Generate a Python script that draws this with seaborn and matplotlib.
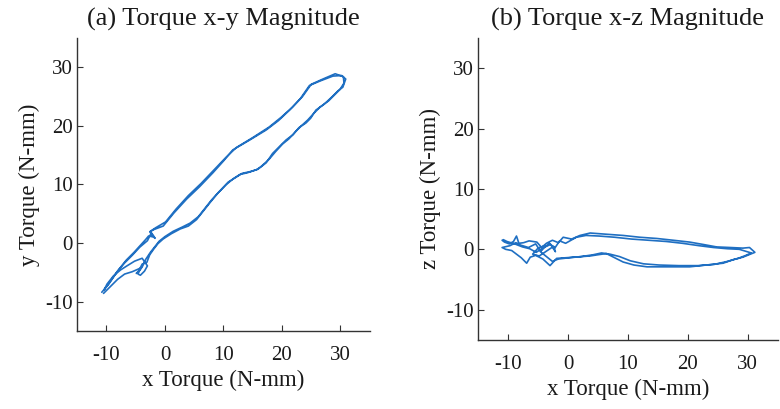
import matplotlib
matplotlib.use("Agg")
import matplotlib.pyplot as plt
import seaborn as sns

# --- data (N-mm) ---
# (a) x-y loop, traced roughly twice
xy_x = [-10.8, -9.6, -8.2, -6.9, -5.6, -4.3, -3.0, -2.4, -1.7, -2.6, -1.9, -0.3, 1.5, 3.7,
        5.9, 8.2, 10.0, 11.6, 14.5, 17.3, 19.4, 21.3, 23.1, 24.7, 26.6, 28.7, 30.2, 30.9,
        30.4, 29.6, 28.6, 27.2, 25.8, 24.9, 24.1, 22.9, 21.9, 20.7, 19.6, 18.4, 17.3, 16.4,
        15.6, 14.1, 12.8, 11.7, 10.5, 9.1, 7.7, 6.5, 5.4, 4.0, 2.6, 1.1, -0.3, -1.2, -1.9,
        -2.6, -3.1, -3.9, -4.3, -4.6, -4.2, -3.5, -3.0, -3.9, -5.2, -6.5, -7.6, -8.8, -9.9,
        -10.4, -9.1, -7.8, -6.6, -5.3, -4.2, -3.3, -2.8, -1.8, -2.5, -1.6, 0.1, 1.9, 4.0, 6.2,
        8.5, 10.4, 12.2, 15.0, 17.8, 19.9, 21.8, 23.5, 25.0, 27.0, 29.1, 30.5, 30.6, 29.9,
        29.0, 28.0, 26.5, 25.4, 24.4, 23.3, 22.3, 21.2, 20.1, 18.9, 17.8, 16.7, 15.9, 14.6,
        13.2, 12.1, 10.8, 9.4, 8.0, 6.8, 5.7, 4.3, 2.9, 1.4, 0.0, -1.0, -1.7, -2.5, -3.3,
        -3.8, -4.4, -4.9, -4.0, -5.6, -6.9, -8.1, -9.3, -10.5]
xy_y = [-8.4, -7.0, -4.9, -3.4, -2.1, -0.7, 0.4, 1.6, 0.8, 1.9, 2.3, 2.9, 5.1, 7.5,
        9.6, 12.0, 14.0, 15.9, 17.6, 19.3, 20.9, 22.7, 24.6, 26.9, 27.7, 28.5, 28.6, 28.0,
        26.6, 26.0, 25.0, 23.7, 22.7, 21.3, 20.5, 19.7, 18.5, 17.6, 16.5, 15.3, 13.7, 13.0,
        12.5, 12.0, 11.7, 11.0, 10.0, 8.6, 6.9, 5.4, 4.0, 2.9, 2.4, 1.6, 0.7, -0.1, -1.0,
        -2.0, -3.3, -3.6, -4.4, -5.3, -5.5, -4.8, -3.9, -2.6, -3.1, -3.9, -4.6, -5.6, -7.0,
        -8.0, -6.2, -4.4, -2.9, -1.6, -0.4, 0.6, 1.2, 1.0, 2.0, 2.6, 3.6, 5.8, 8.1, 10.2,
        12.6, 14.6, 16.3, 18.0, 19.8, 21.5, 23.2, 25.0, 27.1, 28.0, 28.9, 28.4, 27.3, 26.2,
        25.3, 24.3, 23.2, 22.1, 21.0, 20.0, 19.0, 17.8, 16.9, 15.6, 14.3, 13.3, 12.6, 12.2,
        11.9, 11.2, 10.4, 8.9, 7.4, 5.9, 4.5, 3.4, 2.7, 2.0, 1.1, 0.3, -0.6, -1.6, -2.8,
        -3.9, -4.8, -5.2, -4.2, -4.9, -5.3, -6.2, -7.4, -8.6]

# (b) x-z loop, traced roughly twice
xz_x = [-11.0, -10.6, -9.8, -9.1, -8.6, -8.2, -7.4, -6.5, -5.2, -4.4, -3.6, -2.6, -1.6,
        -0.8, 0.6, 2.0, 3.7, 6.4, 9.2, 12.0, 14.8, 17.6, 20.3, 22.6, 24.8, 27.1, 29.2, 30.3,
        31.2, 30.2, 29.2, 27.6, 25.9, 23.1, 20.3, 16.8, 13.2, 11.0, 9.2, 7.8, 6.4, 5.0, 3.7,
        1.0, -1.9, -3.0, -4.2, -5.4, -6.3, -6.9, -7.8, -8.6, -9.4, -10.4, -11.0, -9.7,
        -8.7, -7.9, -6.6, -5.4, -4.6, -3.8, -3.1, -2.2, -1.4, -0.4, 1.4, 3.0, 5.2, 7.8, 10.6,
        13.5, 16.4, 19.1, 21.9, 24.3, 26.6, 28.6, 29.6, 30.6, 29.7, 28.4, 26.6, 24.4, 21.7,
        18.5, 15.2, 12.6, 10.4, 8.6, 7.0, 5.6, 4.2, 2.2, 0.2, -1.6, -2.6, -3.6, -4.6, -3.9,
        -5.0, -5.9, -4.8, -3.6, -2.4, -2.1, -2.9, -4.1, -5.3, -6.4, -7.6, -8.9, -10.2, -10.8]
xz_z = [1.5, 1.2, 0.9, 1.3, 2.2, 1.0, 1.1, 1.4, 1.2, 0.3, 1.0, 1.5, 1.1,
        2.0, 1.7, 2.3, 2.7, 2.5, 2.3, 2.0, 1.8, 1.5, 1.2, 0.8, 0.4, 0.3, 0.2, 0.3,
        -0.5, -0.9, -1.3, -1.7, -2.3, -2.6, -2.9, -2.9, -2.9, -2.6, -2.1, -1.4, -0.7, -0.9,
        -1.1, -1.3, -1.5, -2.7, -1.6, -1.0, -1.3, -2.3, -1.4, -0.8, -0.2, 0.0, 0.3, 0.6,
        1.1, 0.7, 0.3, 0.9, -0.3, 0.4, 1.0, 0.2, 1.4, 1.0, 2.0, 2.3, 2.2, 2.0, 1.7,
        1.5, 1.3, 1.0, 0.6, 0.3, 0.1, 0.0, -0.3, -0.6, -1.0, -1.5, -2.0, -2.5, -2.7,
        -2.7, -2.6, -2.4, -1.9, -1.2, -0.8, -0.6, -0.9, -1.2, -1.4, -1.6, -2.0, -1.2, -0.4,
        0.6, 0.2, -0.8, -1.1, -0.3, 0.5, -0.4, 0.8, 0.3, -0.5, 0.1, 0.4, 0.9, 1.3, 1.6]

ticks = [-10, 0, 10, 20, 30]
LINE_COLOR = "#1f6fc2"
TEXT_COLOR = "#1a1a1a"

sns.set_style("ticks")
plt.rcParams["font.family"] = ["Liberation Serif", "DejaVu Serif"]
plt.rcParams["axes.unicode_minus"] = False  # plain hyphen like the original

fig = plt.figure(figsize=(7.8, 4.09), dpi=100)
ax1 = fig.add_axes([0.099, 0.191, 0.375, 0.716])
ax2 = fig.add_axes([0.613, 0.169, 0.384, 0.738])

panels = [
    (ax1, xy_x, xy_y, "(a) Torque x-y Magnitude", "y Torque (N-mm)"),
    (ax2, xz_x, xz_z, "(b) Torque x-z Magnitude", "z Torque (N-mm)"),
]
for ax, xs, ys, title, ylabel in panels:
    sns.lineplot(x=xs, y=ys, sort=False, estimator=None, color=LINE_COLOR,
                 linewidth=1.2, ax=ax)
    ax.set_xlim(-15, 35)
    ax.set_ylim(-15, 35)
    ax.set_xticks(ticks)
    ax.set_yticks(ticks)
    ax.set_title(title, fontsize=19, pad=9, color=TEXT_COLOR)
    ax.set_xlabel("x Torque (N-mm)", fontsize=16.5, labelpad=3, color=TEXT_COLOR)
    ax.set_ylabel(ylabel, fontsize=16.5, labelpad=4, color=TEXT_COLOR)
    ax.tick_params(direction="in", length=4, labelsize=15, color="#333333",
                   labelcolor=TEXT_COLOR)
    ax.tick_params(axis="x", pad=11)
    ax.tick_params(axis="y", pad=3)
    sns.despine(ax=ax)
    for sp in ax.spines.values():
        sp.set_color("#333333")
        sp.set_linewidth(1.0)

fig.savefig("out.png", dpi=100)
